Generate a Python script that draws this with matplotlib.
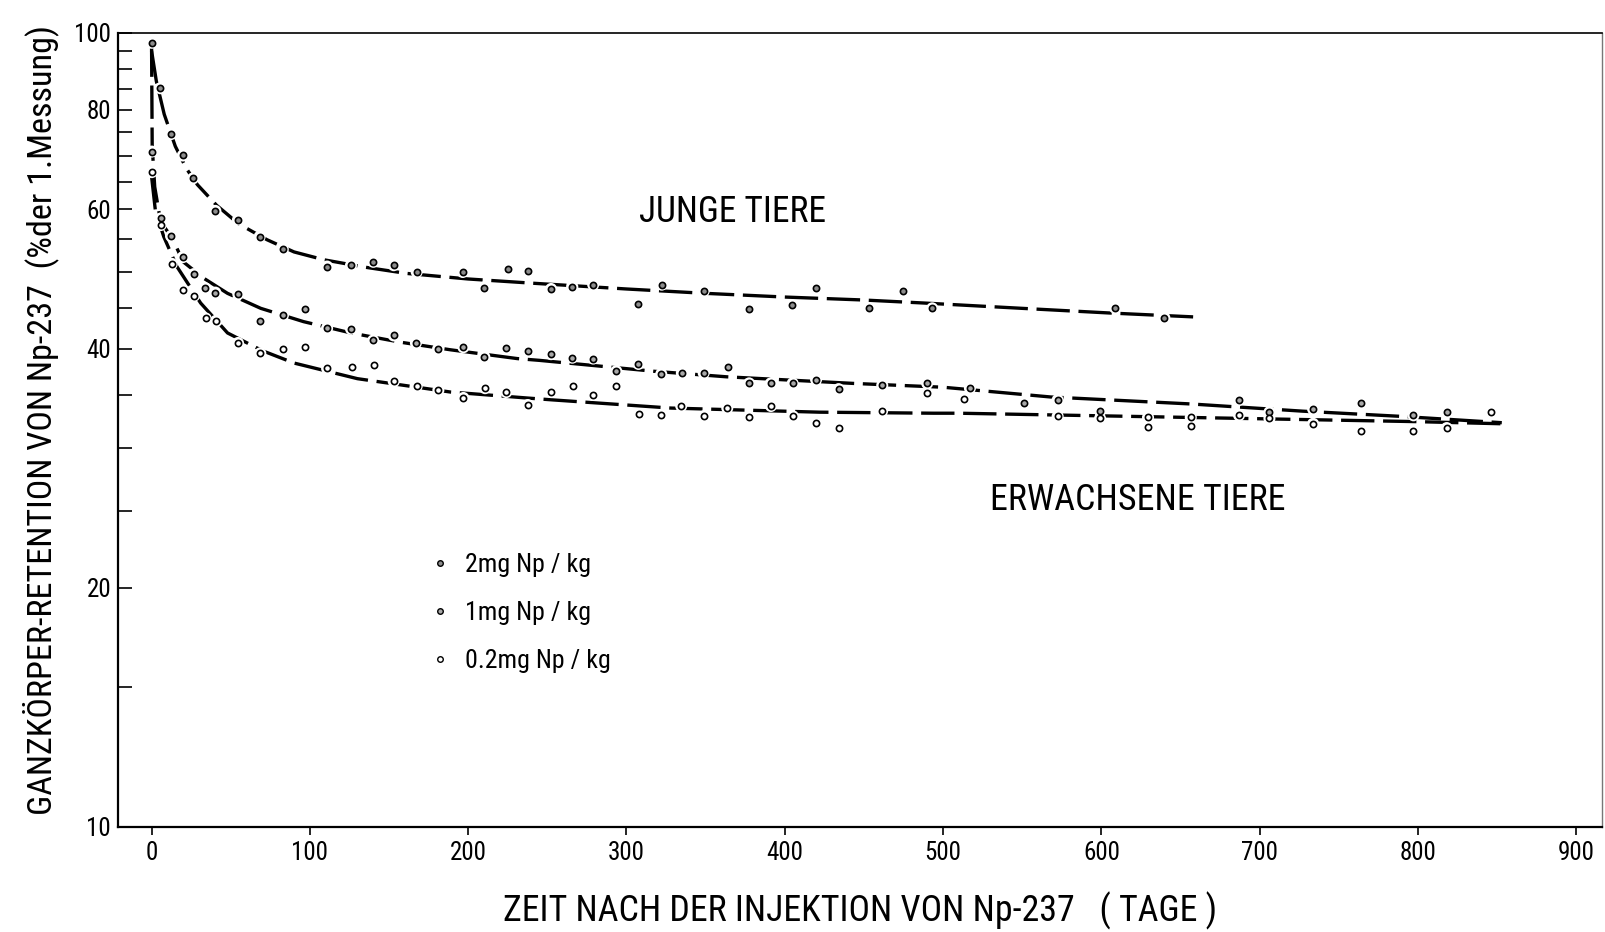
import os
import matplotlib
matplotlib.use("Agg")
import matplotlib.pyplot as plt
from matplotlib import font_manager as fm
from matplotlib.ticker import FixedLocator, NullFormatter, FixedFormatter
from matplotlib.lines import Line2D

# ---------------- data ----------------
# fitted curves
young_curve_x = [0, 3, 8, 15, 22, 29, 41, 55, 73, 90, 109, 135, 161, 200, 241, 300, 350, 400, 450, 488, 550, 605, 658]
young_curve_y = [95, 87, 79, 72, 67.5, 64.4, 60.7, 57.5, 54.9, 53.0, 51.8, 50.7, 49.8, 49.0, 48.4, 47.6, 47.0, 46.5, 46.1, 45.7, 45.0, 44.4, 43.9]

adult_hi_curve_x = [0, 0.4, 2, 5, 8, 13, 20, 33, 48, 69, 96, 126, 157, 189, 231, 245, 317, 363, 443, 500, 568, 657, 727, 789, 853]
adult_hi_curve_y = [97, 72, 64, 59, 57, 55.2, 51.5, 49.1, 47.0, 45.0, 43.3, 41.9, 40.8, 39.9, 38.9, 38.7, 37.5, 36.9, 36.2, 35.8, 34.8, 34.1, 33.4, 32.9, 32.3]

adult_lo_curve_x = [0, 2.4, 7.7, 16, 31, 48, 70, 90, 130, 189, 237, 254, 328, 422, 494, 510, 654, 799, 853]
adult_lo_curve_y = [66, 59.8, 55.4, 50.8, 45.7, 41.9, 39.8, 38.4, 36.7, 35.3, 34.7, 34.5, 33.7, 33.3, 33.2, 33.2, 32.8, 32.4, 32.2]

# measured points
dose_2mg_x = [0.1, 5.6, 12.3, 19.7, 26.2, 40.3, 54.6, 68.3, 82.9, 110.9, 126, 140.1, 153, 167.5, 196.6, 210,
              225.2, 237.8, 252.4, 265.8, 279, 307.5, 322.3, 348.8, 377.2, 404.6, 419.8, 453, 475, 493.2, 608.5, 639.8]
dose_2mg_y = [97.2, 85.2, 74.6, 70.1, 65.6, 59.7, 58.2, 55.4, 53.4, 50.8, 51.0, 51.5, 51.0, 50.0, 50.0, 47.8,
              50.5, 50.1, 47.6, 47.9, 48.2, 45.6, 48.2, 47.3, 44.9, 45.4, 47.7, 45.0, 47.3, 45.0, 45.1, 43.8]

dose_1mg_x = [0.1, 5.8, 12.3, 19.7, 26.7, 34, 40.3, 54.8, 68.7, 83, 97, 110.9, 126, 140, 153, 167, 181, 197, 210.2,
              223.8, 237.8, 252.4, 265.8, 279, 293.6, 307.6, 322, 335, 348.8, 364, 377.5, 391.2, 405, 419.8, 434,
              461.6, 490, 517, 551.4, 572.4, 599.2, 687, 706.2, 733.8, 764, 797.2, 818.2]
dose_1mg_y = [70.9, 58.4, 55.5, 52.2, 49.7, 47.7, 47.1, 46.9, 43.4, 44.1, 44.9, 42.5, 42.4, 41.0, 41.6, 40.7, 40.0, 40.2, 39.1,
              40.1, 39.8, 39.4, 39.0, 38.9, 37.5, 38.3, 37.2, 37.3, 37.3, 38.0, 36.2, 36.2, 36.2, 36.6, 35.6,
              36.0, 36.2, 35.7, 34.2, 34.5, 33.4, 34.5, 33.3, 33.6, 34.2, 33.0, 33.3]

dose_02mg_x = [0.1, 5.8, 12.8, 20.1, 27, 34.2, 40.7, 54.6, 68.7, 83, 96.8, 110.9, 126.5, 140.6, 153, 167.5, 181.2,
               197, 210.7, 224.1, 237.7, 252.4, 266.5, 279, 293.4, 307.8, 322, 334.6, 348.8, 363.7, 377.3, 391.3,
               405.2, 419.8, 434.2, 461.5, 490, 513, 572.4, 599.2, 629.5, 629.5, 656.5, 656.5, 687, 706.2, 733.8,
               764, 797.2, 818.2, 846.4]
dose_02mg_y = [66.8, 57.3, 51.2, 47.4, 46.7, 43.7, 43.4, 40.7, 39.5, 40.0, 40.2, 37.8, 38.0, 38.2, 36.4, 35.9, 35.5,
               34.7, 35.7, 35.3, 34.0, 35.3, 35.9, 35.0, 35.9, 33.1, 33.0, 33.9, 32.9, 33.7, 32.8, 33.9,
               32.9, 32.3, 31.8, 33.4, 35.2, 34.6, 32.9, 32.7, 32.8, 31.9, 32.8, 32.0, 33.0, 32.7, 32.2,
               31.5, 31.5, 31.8, 33.3]

legend_labels = ["2mg Np / kg", "1mg Np / kg", "0.2mg Np / kg"]
x_ticks = [0, 100, 200, 300, 400, 500, 600, 700, 800, 900]
y_major = [10, 20, 40, 60, 80, 100]
y_minor = [15, 25, 30, 35, 45, 50, 55, 65, 70, 75, 85, 90, 95]
x_label = "ZEIT NACH DER INJEKTION VON Np-237   ( TAGE )"
y_label = "GANZKÖRPER-RETENTION VON Np-237  (%der 1.Messung)"
text_young = "JUNGE TIERE"
text_adult = "ERWACHSENE TIERE"

# ---------------- font: prefer a condensed sans ----------------
def pick_font_path():
    paths = [f.fname for f in fm.fontManager.ttflist]
    prefs = ["NotoSans-ExtraCondensed.ttf", "NotoSans-Condensed.ttf", "LiberationSansNarrow-Regular.ttf",
             "RobotoCondensed-Regular.ttf", "DejaVuSansCondensed.ttf"]
    for p in prefs:
        for q in paths:
            if os.path.basename(q) == p:
                return q
    for q in paths:
        b = os.path.basename(q).lower()
        if ("condensed" in b or "narrow" in b) and "bold" not in b and "italic" not in b and "oblique" not in b:
            return q
    return fm.findfont("DejaVu Sans")

FONT_PATH = pick_font_path()
def fp(size):
    p = fm.FontProperties(fname=FONT_PATH)
    p.set_size(size)
    return p

# ---------------- figure ----------------
W, H = 1605, 932
fig = plt.figure(figsize=(W / 100, H / 100), dpi=100)
ax = fig.add_axes([118 / W, 1 - 827 / H, (1602 - 118) / W, (827 - 33) / H])
ax.set_yscale("log")
ax.set_xlim(-21.2, 916.3)
ax.set_ylim(10, 100)

dash = (0, (10, 2.6))
for cx, cy in [(young_curve_x, young_curve_y), (adult_hi_curve_x, adult_hi_curve_y), (adult_lo_curve_x, adult_lo_curve_y)]:
    ax.plot(cx, cy, color="black", lw=2.4, linestyle=dash, solid_capstyle="butt", dash_capstyle="butt", zorder=2)

FACE_2, FACE_1, FACE_02 = "#8c8c8c", "#a8a8a8", "white"
all_x = dose_2mg_x + dose_1mg_x + dose_02mg_x
all_y = dose_2mg_y + dose_1mg_y + dose_02mg_y
# white gap around every point, as in the drawn original
ax.scatter(all_x, all_y, s=75, facecolor="white", edgecolor="none", zorder=2.5)
ms = 20
ax.scatter(dose_2mg_x, dose_2mg_y, s=ms, facecolor=FACE_2, edgecolor="black", linewidths=1.2, zorder=3)
ax.scatter(dose_1mg_x, dose_1mg_y, s=ms, facecolor=FACE_1, edgecolor="black", linewidths=1.2, zorder=3)
ax.scatter(dose_02mg_x, dose_02mg_y, s=ms, facecolor=FACE_02, edgecolor="black", linewidths=1.2, zorder=3)

# spines
for s in ["left", "bottom"]:
    ax.spines[s].set_linewidth(1.6)
ax.spines["top"].set_linewidth(1.2)
ax.spines["right"].set_linewidth(1.0)
ax.spines["right"].set_color("#777777")

# ticks
ax.xaxis.set_major_locator(FixedLocator(x_ticks))
ax.xaxis.set_major_formatter(FixedFormatter([str(v) for v in x_ticks]))
ax.xaxis.set_minor_locator(FixedLocator([]))
ax.yaxis.set_major_locator(FixedLocator(y_major))
ax.yaxis.set_major_formatter(FixedFormatter([str(v) for v in y_major]))
ax.yaxis.set_minor_locator(FixedLocator(y_minor))
ax.yaxis.set_minor_formatter(NullFormatter())
ax.tick_params(axis="x", direction="out", length=6, width=1.2, pad=4)
ax.tick_params(axis="y", which="both", direction="in", length=10, width=1.2, pad=5)

renderer = fig.canvas.get_renderer()

def fit_size(text, target_px, base=20):
    t = fig.text(0, 0, text, fontproperties=fp(base))
    bb = t.get_window_extent(renderer)
    t.remove()
    return base * target_px / bb.width

tick_size = fit_size("100", 37)
for lbl in ax.get_xticklabels() + ax.get_yticklabels():
    lbl.set_fontproperties(fp(tick_size))

# axis labels
ylab_size = fit_size(y_label, 790)
xlab_size = fit_size(x_label, 712)
ax.set_ylabel(y_label, fontproperties=fp(ylab_size), va="center")
ax.yaxis.set_label_coords(-0.052, 0.513)
ax.set_xlabel(x_label, fontproperties=fp(xlab_size), va="top")
ax.xaxis.set_label_coords(0.5, -0.082)

# annotations
ax.text(367.3, 59.5, text_young, fontproperties=fp(fit_size(text_young, 187)), ha="center", va="center")
ax.text(623.2, 25.8, text_adult, fontproperties=fp(fit_size(text_adult, 295)), ha="center", va="center")

# legend
leg_size = fit_size(legend_labels[0], 126)
fs_px = leg_size * 100 / 72
handles = [Line2D([], [], ls="none", marker="o", markersize=4.0, markerfacecolor=c, markeredgecolor="black",
                  markeredgewidth=1.0) for c in [FACE_2, FACE_1, FACE_02]]
leg = ax.legend(handles, legend_labels, prop=fp(leg_size), frameon=False, loc="center left",
                bbox_to_anchor=((432 - 118) / 1484, (827 - 613) / 794), borderpad=0, borderaxespad=0,
                handlelength=0.6, handletextpad=17.7 / fs_px, labelspacing=0.55 + 9.4 / fs_px)

fig.savefig("out.png", dpi=100)
